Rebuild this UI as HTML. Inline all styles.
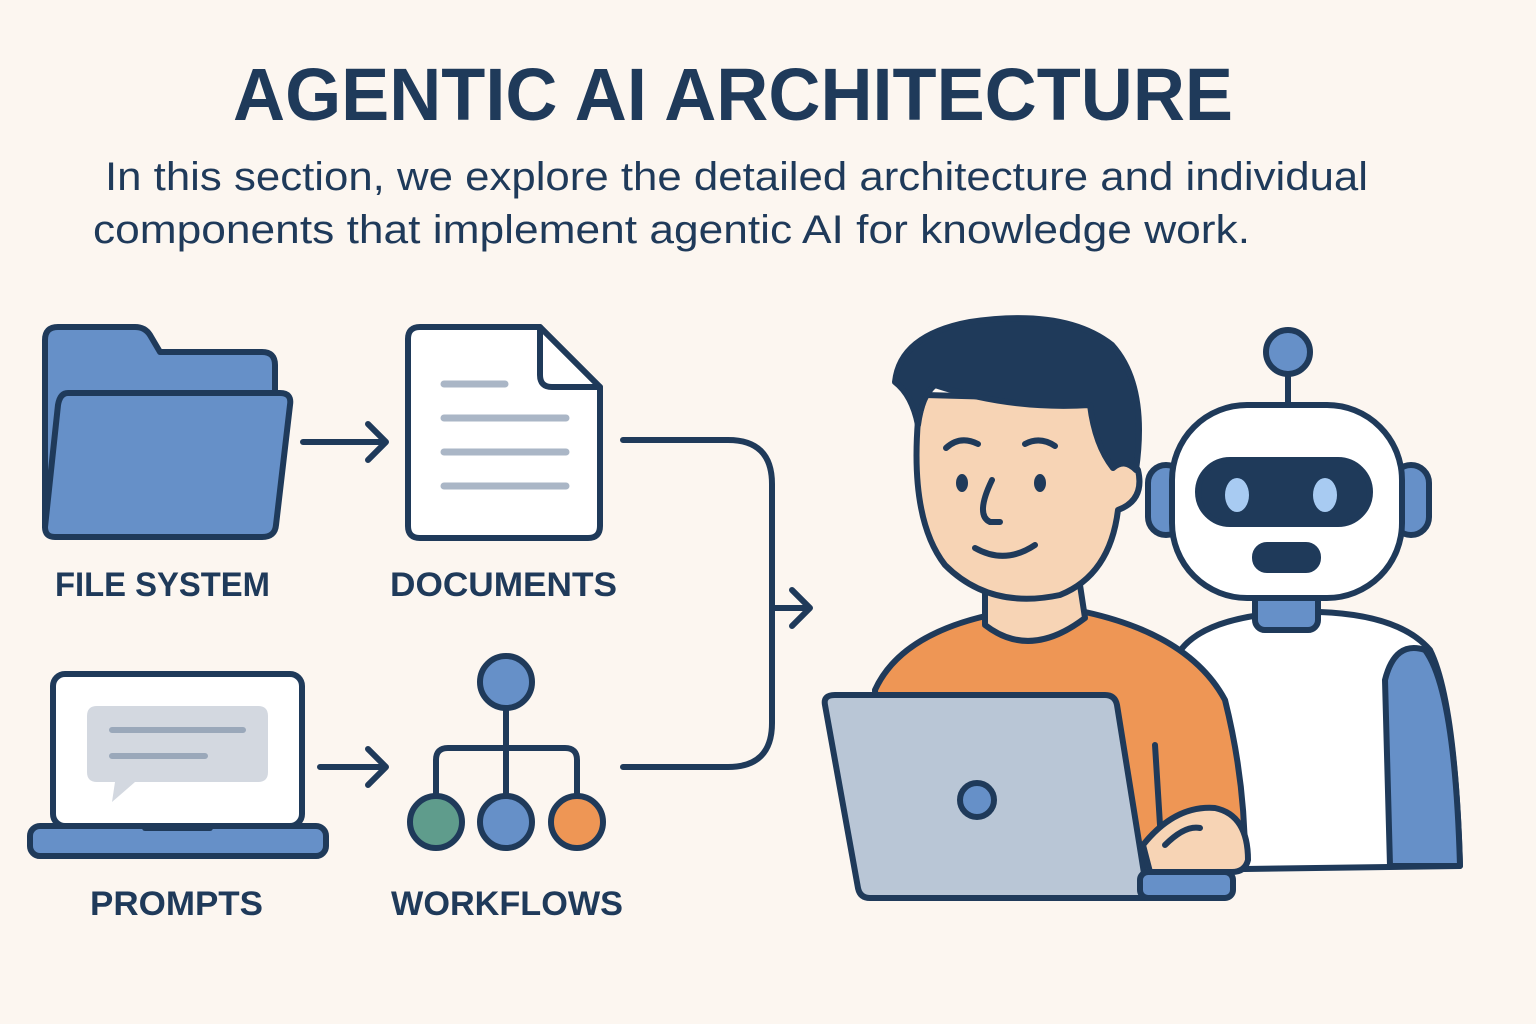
<!DOCTYPE html>
<html><head><meta charset="utf-8"><style>
html,body{margin:0;padding:0;background:#fcf6f0;}
svg{display:block}
text{font-family:"Liberation Sans",sans-serif;fill:#1f3a5a}
</style></head><body>
<svg width="1536" height="1024" viewBox="0 0 1536 1024" xmlns="http://www.w3.org/2000/svg">
<rect width="1536" height="1024" fill="#fcf6f0"/>
<text x="233" y="120" font-size="74" font-weight="bold" textLength="1000" lengthAdjust="spacingAndGlyphs">AGENTIC AI ARCHITECTURE</text>
<text x="105" y="190" font-size="40" textLength="1263" lengthAdjust="spacingAndGlyphs">In this section, we explore the detailed architecture and individual</text>
<text x="93" y="243" font-size="40" textLength="1157" lengthAdjust="spacingAndGlyphs">components that implement agentic AI for knowledge work.</text>

<g stroke="#1f3a5a" stroke-width="6" stroke-linejoin="round" stroke-linecap="round">
<path d="M45 527 L45 340 Q45 327 58 327 L135 327 Q145 327 150 335 L160 352 L262 352 Q275 352 275 365 L275 400 L60 400 Z" fill="#6690c8"/>
<path d="M68 393 L280 393 Q292 393 290 405 L276 525 Q275 537 262 537 L55 537 Q45 537 45 527 L58 405 Q60 393 68 393 Z" fill="#6690c8"/>
<path d="M420 327 L540 327 L600 387 L600 526 Q600 538 588 538 L420 538 Q408 538 408 526 L408 339 Q408 327 420 327 Z" fill="#fff"/>
<path d="M540 327 L540 375 Q540 387 552 387 L600 387" fill="none"/>
<path d="M303 442 L386 442 M368 424 L386 442 L368 460" fill="none"/>
<path d="M320 767 L386 767 M368 749 L386 767 L368 785" fill="none"/>
<path d="M623 440 L728 440 Q772 440 772 484 L772 723 Q772 767 728 767 L623 767" fill="none"/>
<path d="M772 608 L810 608 M792 590 L810 608 L792 626" fill="none"/>
<rect x="53" y="674" width="249" height="152" rx="12" fill="#fff"/>
<rect x="30" y="826" width="296" height="30" rx="10" fill="#6690c8"/>
<path d="M145 828 L210 828" stroke-width="6"/>
<path d="M506 708 L506 796 M436 796 L436 760 Q436 748 448 748 L565 748 Q577 748 577 760 L577 796" fill="none"/>
<circle cx="506" cy="682" r="26" fill="#6690c8"/>
<circle cx="436" cy="822" r="26" fill="#5f9c8c"/>
<circle cx="506" cy="822" r="26" fill="#6690c8"/>
<circle cx="577" cy="822" r="26" fill="#ee9655"/>
</g>
<g stroke="#aab6c6" stroke-width="7" stroke-linecap="round">
<path d="M444 384 L505 384 M444 418 L566 418 M444 452 L566 452 M444 486 L566 486"/>
</g>
<path d="M97 706 L258 706 Q268 706 268 716 L268 772 Q268 782 258 782 L135 782 L112 802 L115 782 L97 782 Q87 782 87 772 L87 716 Q87 706 97 706 Z" fill="#d3d8e0"/>
<g stroke="#9aa8ba" stroke-width="6" stroke-linecap="round"><path d="M112 730 L243 730 M112 756 L205 756"/></g>

<text x="55" y="596" font-size="34" font-weight="bold" textLength="215" lengthAdjust="spacingAndGlyphs">FILE SYSTEM</text>
<text x="390" y="596" font-size="34" font-weight="bold" textLength="227" lengthAdjust="spacingAndGlyphs">DOCUMENTS</text>
<text x="90" y="915" font-size="34" font-weight="bold" textLength="173" lengthAdjust="spacingAndGlyphs">PROMPTS</text>
<text x="391" y="915" font-size="34" font-weight="bold" textLength="232" lengthAdjust="spacingAndGlyphs">WORKFLOWS</text>

<g stroke="#1f3a5a" stroke-width="6" stroke-linejoin="round" stroke-linecap="round">
<path d="M1288 374 L1288 405" fill="none"/>
<circle cx="1288" cy="352" r="22" fill="#6690c8"/>
<path d="M1175 870 L1175 660 Q1190 625 1260 615 L1320 612 Q1400 615 1430 650 Q1455 700 1460 866 L1175 870 Z" fill="#fff"/>
<path d="M1385 680 Q1395 640 1425 650 Q1455 690 1460 866 L1390 866 Z" fill="#6690c8"/>
<rect x="1255" y="590" width="63" height="40" rx="10" fill="#6690c8"/>
<rect x="1148" y="465" width="36" height="70" rx="18" fill="#6690c8"/>
<rect x="1393" y="465" width="36" height="70" rx="18" fill="#6690c8"/>
<rect x="1172" y="405" width="230" height="193" rx="75" fill="#fff"/>
<rect x="1198" y="460" width="172" height="64" rx="32" fill="#1f3a5a"/>
<rect x="1255" y="545" width="63" height="25" rx="12" fill="#1f3a5a"/>
<path d="M875 690 Q900 635 990 615 L1085 612 Q1190 635 1225 700 Q1245 780 1245 860 L880 860 Z" fill="#ee9655"/>
<path d="M985 590 L985 625 Q1030 660 1085 618 L1080 585 Z" fill="#f7d4b5"/>
<path d="M918 420 Q910 520 945 565 Q990 610 1060 595 Q1110 575 1118 510 Q1145 500 1138 470 Q1130 455 1115 462 L1105 400 L925 395 Z" fill="#f7d4b5"/>
<path d="M895 382 Q900 335 970 322 Q1065 308 1112 345 Q1148 385 1136 470 Q1124 458 1113 468 Q1095 445 1090 405 Q1010 410 935 385 Q922 395 918 425 Q912 395 895 382 Z" fill="#1f3a5a"/>
<path d="M946 448 Q960 435 978 444 M1025 444 Q1040 436 1055 446 M992 480 Q975 515 990 522 L1000 522 M975 548 Q1005 565 1035 545" fill="none"/>
<path d="M1155 745 L1160 825" fill="none"/>
<path d="M835 695 L1105 695 Q1115 695 1117 705 L1148 898 L870 898 Q860 898 858 888 L825 705 Q823 695 835 695 Z" fill="#b9c6d6"/>
<rect x="1140" y="872" width="93" height="26" rx="8" fill="#6690c8"/>
<path d="M1143 845 Q1175 805 1215 808 Q1248 815 1248 860 Q1245 872 1232 872 L1150 872 Z" fill="#f7d4b5"/>
<path d="M1165 845 Q1185 825 1200 828" fill="none"/>
<circle cx="977" cy="800" r="17" fill="#6690c8"/>
</g>
<ellipse cx="1237" cy="495" rx="12" ry="17" fill="#a8cbf2"/>
<ellipse cx="1325" cy="495" rx="12" ry="17" fill="#a8cbf2"/>
<ellipse cx="962" cy="483" rx="6" ry="9" fill="#1f3a5a"/>
<ellipse cx="1040" cy="483" rx="6" ry="9" fill="#1f3a5a"/>
</svg>
</body></html>
